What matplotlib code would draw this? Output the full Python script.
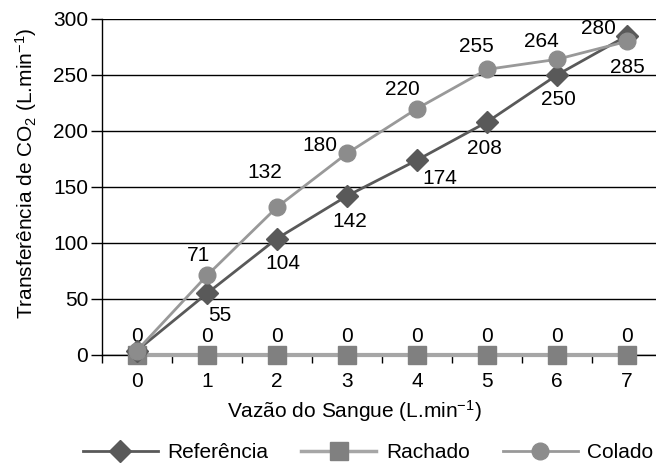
import matplotlib.pyplot as plt
from matplotlib.lines import Line2D

plt.rcParams['font.family'] = ['Liberation Sans', 'DejaVu Sans']
plt.rcParams['mathtext.fontset'] = 'custom'
plt.rcParams['mathtext.rm'] = 'Liberation Sans'
plt.rcParams['mathtext.default'] = 'regular'

# data
vazao = [0, 1, 2, 3, 4, 5, 6, 7]
referencia = [4, 55, 104, 142, 174, 208, 250, 285]
rachado = [0, 0, 0, 0, 0, 0, 0, 0]
colado = [4, 71, 132, 180, 220, 255, 264, 280]

ref_labels = ['', '55', '104', '142', '174', '208', '250', '285']
rach_labels = ['0', '0', '0', '0', '0', '0', '0', '0']
col_labels = ['', '71', '132', '180', '220', '255', '264', '280']

# label offsets in pixels (dx, dy)
ref_off = [(0, 0), (13, -22), (6, -25), (3, -26), (23, -18), (-3, -26), (1, -25), (0, -32)]
col_off = [(0, 0), (-8, 20), (-12, 35), (-27, 8), (-15, 19), (-11, 23), (-16, 18), (-29, 13)]

c_ref = '#595959'
c_rach = '#808080'
c_col = '#8c8c8c'
fs = 15

fig = plt.figure(figsize=(6.56, 4.63), dpi=100)
ax = fig.add_axes([102 / 656, 108 / 463, 560 / 656, 336 / 463])

ax.plot(vazao, rachado, color='#a6a6a6', lw=3, marker='s', ms=13,
        mfc=c_rach, mec=c_rach, zorder=3, clip_on=False)
ax.plot(vazao, referencia, color=c_ref, lw=2, marker='D', ms=11,
        mfc=c_ref, mec=c_ref, zorder=4, clip_on=False)
ax.plot(vazao, colado, color='#999999', lw=2, marker='o', ms=12,
        mfc=c_col, mec=c_col, zorder=5, clip_on=False)

for i, x in enumerate(vazao):
    ax.annotate(rach_labels[i], (x, rachado[i]), xytext=(0, 19),
                textcoords='offset pixels', ha='center', va='center', fontsize=fs)
    if ref_labels[i]:
        ax.annotate(ref_labels[i], (x, referencia[i]), xytext=ref_off[i],
                    textcoords='offset pixels', ha='center', va='center', fontsize=fs)
    if col_labels[i]:
        ax.annotate(col_labels[i], (x, colado[i]), xytext=col_off[i],
                    textcoords='offset pixels', ha='center', va='center', fontsize=fs)

ax.set_xlim(-0.5, 7.5)
ax.set_ylim(0, 300)
ax.set_yticks(range(0, 301, 50))
ax.set_xticks(vazao)
ax.set_xticks([v + 0.5 for v in [-1] + vazao], minor=True)
ax.tick_params(axis='x', which='major', length=0, labelsize=fs, pad=12)
ax.tick_params(axis='x', which='minor', length=6, width=1, direction='out')
ax.tick_params(axis='y', length=8, width=1, labelsize=fs, pad=2)

ax.grid(axis='y', color='black', lw=1)
for s in ['top', 'right']:
    ax.spines[s].set_visible(False)
ax.spines['left'].set_linewidth(1)
ax.spines['bottom'].set_linewidth(1)

fig.text(26 / 656, 1 - 173 / 463, 'Transferência de CO$_2$ (L.min$^{-1}$)',
         rotation=90, ha='center', va='center', fontsize=fs)
fig.text(354 / 656, 1 - 411 / 463, 'Vazão do Sangue (L.min$^{-1}$)',
         ha='center', va='center', fontsize=fs)

handles = [
    Line2D([], [], color=c_ref, lw=2, marker='D', ms=11, mfc=c_ref, mec=c_ref),
    Line2D([], [], color='#a6a6a6', lw=2.5, marker='s', ms=13, mfc=c_rach, mec=c_rach),
    Line2D([], [], color='#999999', lw=2, marker='o', ms=12, mfc=c_col, mec=c_col),
]
fig.legend(handles, ['Referência', 'Rachado', 'Colado'], loc='center',
           bbox_to_anchor=(368 / 656, 1 - 453 / 463), ncol=3, frameon=False,
           fontsize=fs, handlelength=3.6, columnspacing=1.6, handletextpad=0.45,
           borderpad=0, borderaxespad=0)

fig.savefig('out.png', dpi=100)
